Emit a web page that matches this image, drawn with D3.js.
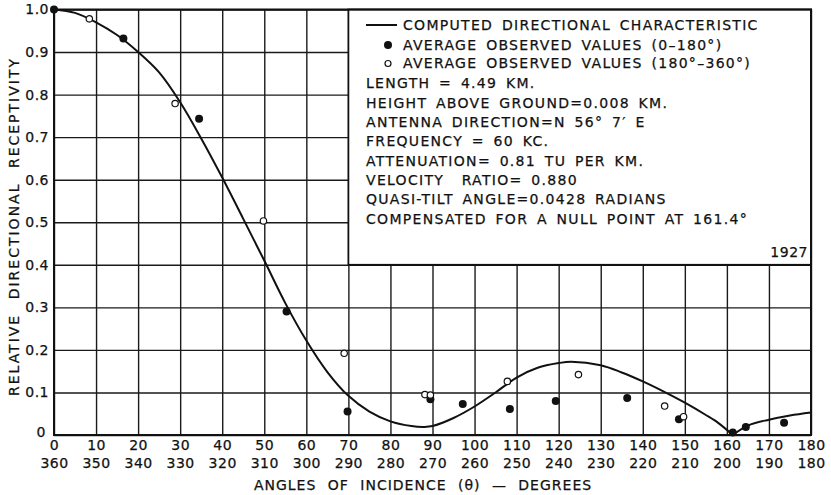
<!DOCTYPE html>
<html>
<head>
<meta charset="utf-8">
<script src="https://cdn.jsdelivr.net/npm/d3@7"></script>
<style>
  body { margin: 0; background: #fff; }
  text { font-family: "DejaVu Sans", sans-serif; fill: #111; stroke: #111; stroke-width: 0.25px; }
</style>
</head>
<body>
<div id="chart"></div>
<script>
// computed directional characteristic (angle 0-180, receptivity)
var curveAngles = [0, 5, 10, 15, 20, 25, 30, 35, 40, 45, 50, 55, 60, 65, 70, 75, 80, 85, 88, 90,
                   95, 100, 105, 110, 115, 120, 123, 130, 135, 140, 145, 150, 155, 158, 161.4,
                   165, 170, 175, 180];
var curveValues = [1.0, 0.992, 0.970, 0.94, 0.90, 0.852, 0.782, 0.697, 0.605, 0.508, 0.41, 0.31, 0.222, 0.148, 0.092, 0.055, 0.032, 0.021, 0.019, 0.021,
                   0.04, 0.067, 0.10, 0.135, 0.158, 0.169, 0.172, 0.164, 0.147, 0.126, 0.102, 0.076, 0.047, 0.028, 0,
                   0.022, 0.036, 0.046, 0.053];

// observed values, 0-180 degrees (filled dots)
var obsAngles = [0, 16.5, 34.5, 55.3, 69.8, 89.5, 97.2, 108.4, 119.3, 136.3, 148.6, 161.4, 164.5, 173.6];
var obsValues = [1.0, 0.932, 0.743, 0.29, 0.055, 0.084, 0.073, 0.061, 0.08, 0.087, 0.037, 0.006, 0.019, 0.029];

// observed values, 180-360 degrees (open dots)
var obs2Angles = [351.6, 331.2, 310.2, 291, 271.8, 270.5, 252.2, 235.3, 214.8, 210.3];
var obs2Values = [0.978, 0.779, 0.503, 0.192, 0.095, 0.094, 0.126, 0.142, 0.068, 0.043];

var xTicksTop = [0, 10, 20, 30, 40, 50, 60, 70, 80, 90, 100, 110, 120, 130, 140, 150, 160, 170, 180];
var xTicksBottom = [360, 350, 340, 330, 320, 310, 300, 290, 280, 270, 260, 250, 240, 230, 220, 210, 200, 190, 180];
var yTicks = [0, 0.1, 0.2, 0.3, 0.4, 0.5, 0.6, 0.7, 0.8, 0.9, 1.0];
var yTickLabels = ["0", "0.1", "0.2", "0.3", "0.4", "0.5", "0.6", "0.7", "0.8", "0.9", "1.0"];

var legendNotes = ["LENGTH = 4.49 KM.",
                   "HEIGHT ABOVE GROUND=0.008 KM.",
                   "ANTENNA DIRECTION=N 56° 7′ E",
                   "FREQUENCY = 60 KC.",
                   "ATTENUATION= 0.81 TU PER KM.",
                   "VELOCITY  RATIO= 0.880",
                   "QUASI-TILT ANGLE=0.0428 RADIANS",
                   "COMPENSATED FOR A NULL POINT AT 161.4°"];

var width = 831, height = 495;
var margin = { top: 9.5, right: 20, bottom: 60, left: 54 };
var w = width - margin.left - margin.right,
    h = height - margin.top - margin.bottom;

var svg = d3.select("#chart").append("svg")
  .attr("width", width)
  .attr("height", height)
  .append("g")
  .attr("transform", "translate(" + margin.left + "," + margin.top + ")");

var x = d3.scaleLinear().domain([0, 180]).range([0, w]);
var y = d3.scaleLinear().domain([0, 1]).range([h, 0]);

// grid
svg.append("g")
  .attr("class", "grid")
  .attr("transform", "translate(0," + h + ")")
  .call(d3.axisBottom(x).tickValues(xTicksTop).tickSize(-h).tickFormat(""))
  .call(function(g) { g.select(".domain").remove(); });
svg.append("g")
  .attr("class", "grid")
  .call(d3.axisLeft(y).tickValues(yTicks).tickSize(-w).tickFormat(""))
  .call(function(g) { g.select(".domain").remove(); });
svg.selectAll(".grid line").attr("stroke", "#1a1a1a").attr("stroke-width", 1.4);

// legend box covers the upper right of the grid
var boxX = x(70), boxY = y(1.0);
svg.append("rect")
  .attr("x", boxX)
  .attr("y", boxY)
  .attr("width", x(180) - boxX)
  .attr("height", y(0.4) - boxY)
  .attr("fill", "#fff")
  .attr("stroke", "#111")
  .attr("stroke-width", 1.8);

// frame
svg.append("rect")
  .attr("width", w).attr("height", h)
  .attr("fill", "none")
  .attr("stroke", "#111")
  .attr("stroke-width", 2);

// computed curve, split at the null point so it keeps its cusp
var curvePts = curveAngles.map(function(a, i) { return [a, curveValues[i]]; });
var nullAt = 161.4;
var line = d3.line()
  .x(function(d) { return x(d[0]); })
  .y(function(d) { return y(d[1]); })
  .curve(d3.curveCatmullRom.alpha(0.5));
[curvePts.filter(function(d) { return d[0] <= nullAt; }),
 curvePts.filter(function(d) { return d[0] >= nullAt; })].forEach(function(seg) {
  svg.append("path")
    .attr("d", line(seg))
    .attr("fill", "none")
    .attr("stroke", "#111")
    .attr("stroke-width", 2);
});

// observed points
svg.selectAll(".obs")
  .data(obsAngles.map(function(a, i) { return [a, obsValues[i]]; }))
  .enter().append("circle")
  .attr("class", "obs")
  .attr("cx", function(d) { return x(d[0]); })
  .attr("cy", function(d) { return y(d[1]); })
  .attr("r", 4)
  .attr("fill", "#111");

svg.selectAll(".obs2")
  .data(obs2Angles.map(function(a, i) { return [360 - a, obs2Values[i]]; }))
  .enter().append("circle")
  .attr("class", "obs2")
  .attr("cx", function(d) { return x(d[0]); })
  .attr("cy", function(d) { return y(d[1]); })
  .attr("r", 3.2)
  .attr("fill", "#fff")
  .attr("stroke", "#111")
  .attr("stroke-width", 1.2);

// tick labels
var axTop = svg.append("g")
  .attr("transform", "translate(0," + h + ")")
  .call(d3.axisBottom(x).tickValues(xTicksTop).tickSize(0).tickPadding(5));
var axBot = svg.append("g")
  .attr("transform", "translate(0," + (h + 18) + ")")
  .call(d3.axisBottom(x).tickValues(xTicksTop).tickSize(0).tickPadding(5)
    .tickFormat(function(d, i) { return xTicksBottom[i]; }));
var axY = svg.append("g")
  .call(d3.axisLeft(y).tickValues(yTicks).tickSize(0).tickPadding(5)
    .tickFormat(function(d, i) { return yTickLabels[i]; }));
[axTop, axBot, axY].forEach(function(g) {
  g.select(".domain").remove();
  g.selectAll("text")
    .style("font-size", "14px")
    .style("font-family", "'DejaVu Sans', sans-serif")
    .style("letter-spacing", "0.5px")
    .attr("fill", "#111");
});
axY.selectAll(".tick")
  .filter(function(d) { return d === 0; })
  .select("text").attr("x", -8).attr("dy", "0.1em");

// axis titles
svg.append("text")
  .attr("transform", "translate(" + (14 - margin.left) + "," + y(0.49) + ") rotate(-90)")
  .attr("text-anchor", "middle")
  .attr("dy", "0.35em")
  .style("font-size", "14px")
  .style("letter-spacing", "2px")
  .style("word-spacing", "8px")
  .text("RELATIVE DIRECTIONAL RECEPTIVITY");

svg.append("text")
  .attr("x", 423 - margin.left)
  .attr("y", 485 - margin.top)
  .attr("text-anchor", "middle")
  .attr("dy", "0.35em")
  .style("font-size", "14px")
  .style("letter-spacing", "1px")
  .style("word-spacing", "6px")
  .text("ANGLES OF INCIDENCE (θ) — DEGREES");

// legend
var lg = svg.append("g").attr("transform", "translate(" + (366 - margin.left) + "," + (25 - margin.top) + ")");
var legStyle = function(t) {
  t.style("font-size", "14px").style("letter-spacing", "1.3px").style("word-spacing", "3px")
   .style("white-space", "pre")
   .attr("dy", "0.35em");
};
lg.append("line").attr("x1", 0).attr("x2", 31).attr("y1", 0).attr("y2", 0)
  .attr("stroke", "#111").attr("stroke-width", 2);
lg.append("text").attr("x", 37).attr("y", 0).call(legStyle).text("COMPUTED DIRECTIONAL CHARACTERISTIC");
lg.append("circle").attr("cx", 22).attr("cy", 20).attr("r", 4).attr("fill", "#111");
lg.append("text").attr("x", 37).attr("y", 20).call(legStyle).text("AVERAGE OBSERVED VALUES (0–180°)");
lg.append("circle").attr("cx", 22).attr("cy", 38.5).attr("r", 3).attr("fill", "#fff")
  .attr("stroke", "#111").attr("stroke-width", 1.2);
lg.append("text").attr("x", 37).attr("y", 38.5).call(legStyle).text("AVERAGE OBSERVED VALUES (180°–360°)");
lg.selectAll(".note")
  .data(legendNotes)
  .enter().append("text")
  .attr("class", "note")
  .attr("x", 0)
  .attr("y", function(d, i) { return 58.5 + i * 19.3; })
  .call(legStyle)
  .text(function(d) { return d; });

svg.append("text")
  .attr("x", x(180) - 3)
  .attr("y", 252 - margin.top)
  .attr("text-anchor", "end")
  .attr("dy", "0.35em")
  .style("font-size", "14px")
  .style("letter-spacing", "0.5px")
  .text("1927");
</script>
</body>
</html>
